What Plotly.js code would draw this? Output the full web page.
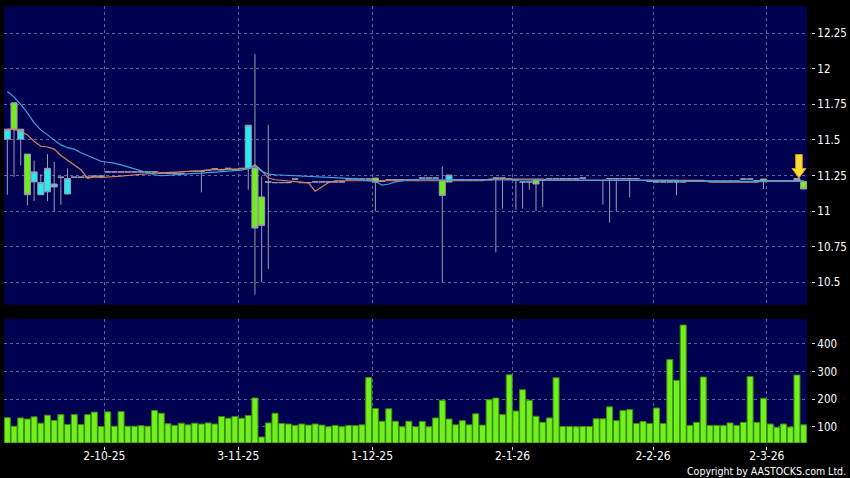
<!DOCTYPE html>
<html>
<head>
<meta charset="utf-8">
<script src="https://cdn.plot.ly/plotly-3.0.1.min.js"></script>
<style>
html,body{margin:0;padding:0;background:#000;}
#chart{width:850px;height:478px;}
</style>
</head>
<body>
<div id="chart"></div>
<script>
// ---- data ----
const dates = [
 '2025-09-10','2025-09-11','2025-09-12','2025-09-15','2025-09-16','2025-09-17','2025-09-18','2025-09-19','2025-09-22','2025-09-23',
 '2025-09-24','2025-09-25','2025-09-26','2025-09-29','2025-09-30','2025-10-02','2025-10-03','2025-10-06','2025-10-08','2025-10-09',
 '2025-10-10','2025-10-13','2025-10-14','2025-10-15','2025-10-16','2025-10-17','2025-10-20','2025-10-21','2025-10-22','2025-10-23',
 '2025-10-24','2025-10-27','2025-10-28','2025-10-30','2025-10-31','2025-11-03','2025-11-04','2025-11-05','2025-11-06','2025-11-07',
 '2025-11-10','2025-11-11','2025-11-12','2025-11-13','2025-11-14','2025-11-17','2025-11-18','2025-11-19','2025-11-20','2025-11-21',
 '2025-11-24','2025-11-25','2025-11-26','2025-11-27','2025-11-28','2025-12-01','2025-12-02','2025-12-03','2025-12-04','2025-12-05',
 '2025-12-08','2025-12-09','2025-12-10','2025-12-11','2025-12-12','2025-12-15','2025-12-16','2025-12-17','2025-12-18','2025-12-19',
 '2025-12-22','2025-12-23','2025-12-24','2025-12-29','2025-12-30','2025-12-31','2026-01-02','2026-01-05','2026-01-06','2026-01-07',
 '2026-01-08','2026-01-09','2026-01-12','2026-01-13','2026-01-14','2026-01-15','2026-01-16','2026-01-19','2026-01-20','2026-01-21',
 '2026-01-22','2026-01-23','2026-01-26','2026-01-27','2026-01-28','2026-01-29','2026-01-30','2026-02-02','2026-02-03','2026-02-04',
 '2026-02-05','2026-02-06','2026-02-09','2026-02-10','2026-02-11','2026-02-12','2026-02-13','2026-02-16','2026-02-20','2026-02-23',
 '2026-02-24','2026-02-25','2026-02-26','2026-02-27','2026-03-02','2026-03-03','2026-03-04','2026-03-05','2026-03-06','2026-03-09'
];

const openP = [
 11.505,11.76,11.505,11.40,11.205,11.115,11.135,11.17,11.238,11.12,
 11.238,11.238,11.238,11.245,11.245,11.275,11.275,11.275,11.275,11.275,
 11.275,11.275,11.275,11.265,11.265,11.265,11.265,11.278,11.278,11.278,
 11.285,11.297,11.29,11.30,11.29,11.30,11.302,11.302,11.099,11.204,
 11.20,11.20,11.20,11.225,11.20,11.20,11.205,11.205,11.205,11.205,
 11.205,11.225,11.225,11.225,11.225,11.232,11.21,11.22,11.22,11.22,
 11.22,11.22,11.232,11.232,11.232,11.215,11.204,11.22,11.22,11.22,
 11.22,11.22,11.22,11.232,11.232,11.225,11.22,11.204,11.204,11.22,
 11.215,11.227,11.227,11.227,11.227,11.227,11.232,11.215,11.215,11.215,
 11.228,11.228,11.228,11.228,11.228,11.215,11.21,11.205,11.205,11.205,
 11.205,11.205,11.21,11.21,11.21,11.21,11.21,11.21,11.21,11.21,
 11.225,11.225,11.215,11.225,11.21,11.21,11.21,11.21,11.21,11.208
];
const highP = [
 11.575,11.76,11.575,11.40,11.355,11.26,11.40,11.345,11.238,11.30,
 11.238,11.238,11.238,11.245,11.245,11.275,11.275,11.275,11.275,11.275,
 11.275,11.275,11.275,11.265,11.265,11.265,11.265,11.278,11.278,11.278,
 11.285,11.297,11.29,11.30,11.29,11.30,11.603,12.103,11.243,11.606,
 11.20,11.20,11.20,11.225,11.20,11.20,11.205,11.205,11.205,11.205,
 11.205,11.225,11.225,11.225,11.225,11.232,11.21,11.22,11.22,11.22,
 11.22,11.22,11.232,11.232,11.232,11.313,11.253,11.22,11.22,11.22,
 11.22,11.22,11.22,11.232,11.232,11.225,11.22,11.204,11.204,11.22,
 11.215,11.227,11.227,11.227,11.227,11.227,11.232,11.215,11.215,11.215,
 11.228,11.228,11.228,11.228,11.228,11.215,11.21,11.205,11.205,11.205,
 11.205,11.205,11.21,11.21,11.21,11.21,11.21,11.21,11.21,11.21,
 11.225,11.225,11.215,11.225,11.21,11.21,11.21,11.21,11.229,11.208
];
const lowP = [
 11.115,11.24,11.32,11.04,11.07,11.115,11.07,11.00,11.045,11.12,
 11.238,11.238,11.238,11.245,11.245,11.275,11.275,11.275,11.275,11.275,
 11.275,11.275,11.275,11.265,11.265,11.265,11.265,11.278,11.278,11.131,
 11.285,11.297,11.29,11.30,11.29,11.30,11.15,10.413,10.502,10.594,
 11.20,11.20,11.20,11.225,11.20,11.20,11.205,11.205,11.205,11.205,
 11.205,11.225,11.225,11.225,11.225,10.998,11.21,11.22,11.22,11.22,
 11.22,11.22,11.232,11.232,11.232,10.50,11.204,11.22,11.22,11.22,
 11.22,11.22,11.22,10.71,11.017,11.225,11.01,11.017,11.15,11.0,
 11.028,11.227,11.227,11.227,11.227,11.227,11.232,11.215,11.215,11.045,
 10.92,11.0,11.228,11.096,11.228,11.215,11.21,11.205,11.205,11.205,
 11.11,11.205,11.21,11.21,11.21,11.21,11.21,11.21,11.21,11.21,
 11.225,11.225,11.215,11.155,11.21,11.21,11.21,11.21,11.21,11.155
];
const closeP = [
 11.575,11.575,11.575,11.115,11.275,11.20,11.30,11.19,11.238,11.228,
 11.238,11.238,11.238,11.245,11.245,11.275,11.275,11.275,11.275,11.275,
 11.275,11.275,11.275,11.265,11.265,11.265,11.265,11.278,11.278,11.278,
 11.285,11.297,11.29,11.30,11.29,11.30,11.603,10.881,10.899,11.204,
 11.20,11.20,11.20,11.225,11.20,11.20,11.205,11.205,11.205,11.205,
 11.205,11.225,11.225,11.225,11.225,11.204,11.21,11.22,11.22,11.22,
 11.22,11.22,11.232,11.232,11.232,11.11,11.253,11.22,11.22,11.22,
 11.22,11.22,11.22,11.232,11.232,11.225,11.22,11.204,11.204,11.19,
 11.215,11.227,11.227,11.227,11.227,11.227,11.232,11.215,11.215,11.215,
 11.228,11.228,11.228,11.228,11.228,11.215,11.21,11.205,11.205,11.205,
 11.205,11.205,11.21,11.21,11.21,11.21,11.21,11.21,11.21,11.21,
 11.225,11.225,11.215,11.206,11.21,11.21,11.21,11.21,11.229,11.155
];

// moving averages (blue = longer, orange = shorter)
const maLong = [
 11.84,11.80,11.75,11.69,11.62,11.57,11.535,11.50,11.465,11.445,
 11.435,11.41,11.39,11.37,11.35,11.343,11.337,11.325,11.31,11.298,
 11.285,11.268,11.255,11.248,11.252,11.257,11.26,11.262,11.265,11.267,
 11.27,11.274,11.278,11.281,11.284,11.287,11.30,11.313,11.28,11.26,
 11.255,11.253,11.252,11.25,11.248,11.246,11.244,11.241,11.239,11.236,
 11.233,11.229,11.225,11.221,11.215,11.208,11.182,11.19,11.205,11.215,
 11.22,11.22,11.22,11.22,11.22,11.22,11.22,11.22,11.22,11.22,
 11.22,11.22,11.22,11.22,11.22,11.22,11.22,11.22,11.22,11.22,
 11.22,11.215,11.215,11.215,11.215,11.215,11.215,11.215,11.215,11.215,
 11.215,11.215,11.215,11.215,11.215,11.215,11.215,11.215,11.215,11.215,
 11.215,11.208,11.208,11.208,11.208,11.208,11.208,11.208,11.208,11.208,
 11.208,11.208,11.208,11.208,11.208,11.208,11.208,11.208,11.208,11.208
];
const maShort = [
 11.575,11.572,11.562,11.535,11.49,11.455,11.45,11.435,11.39,11.355,
 11.32,11.29,11.23,11.24,11.236,11.238,11.242,11.246,11.25,11.255,
 11.258,11.262,11.266,11.269,11.271,11.273,11.275,11.277,11.28,11.284,
 11.29,11.292,11.294,11.295,11.295,11.296,11.296,11.325,11.285,11.232,
 11.22,11.215,11.212,11.21,11.205,11.198,11.14,11.17,11.20,11.213,
 11.213,11.213,11.213,11.213,11.213,11.213,11.213,11.213,11.213,11.213,
 11.213,11.213,11.213,11.213,11.213,11.213,11.213,11.213,11.213,11.213,
 11.213,11.213,11.225,11.225,11.225,11.225,11.225,11.225,11.225,11.225,
 11.225,11.215,11.215,11.215,11.215,11.215,11.215,11.215,11.215,11.215,
 11.215,11.215,11.215,11.215,11.215,11.215,11.215,11.215,11.215,11.215,
 11.215,11.215,11.215,11.215,11.215,11.203,11.203,11.203,11.203,11.203,
 11.203,11.203,11.203,11.212,11.212,11.212,11.212,11.212,11.212,11.212
];

const volume = [
 133,102,132,128,136,113,142,123,144,108,
 144,108,144,153,101,154,102,155,102,102,
 104,102,159,149,111,105,113,107,113,110,
 114,110,137,131,137,131,141,204,63,114,
 149,112,110,105,110,106,110,106,100,105,
 100,105,104,107,278,166,120,165,120,100,
 120,100,119,100,132,196,128,107,122,107,
 147,106,198,204,144,288,157,234,196,138,
 116,132,277,101,101,100,101,101,129,129,
 172,122,159,162,112,119,112,168,112,343,
 268,468,105,116,280,105,105,105,114,105,
 116,282,116,203,110,98,110,99,287,107
];

const monthTickDates = ['2025-10-02','2025-11-03','2025-12-01','2026-01-02','2026-02-02','2026-03-02'];
const monthTickLabels = ['2-10-25','3-11-25','1-12-25','2-1-26','2-2-26','2-3-26'];
const priceTicks = [10.5,10.75,11,11.25,11.5,11.75,12,12.25];
const priceTickLabels = ['10.5','10.75','11','11.25','11.5','11.75','12','12.25'];
const volumeTicks = [100,200,300,400];
const volumeTickLabels = ['100','200','300','400'];
const arrowDate = '2026-03-06';

// ---- build ----
const xi = dates.map((d, i) => i);
const tickPos = monthTickDates.map(d => dates.indexOf(d) - 0.5);
const ai = dates.indexOf(arrowDate);

const GRID = '#62629c';
const NAVY = '#000050';
const FONT = 'DejaVu Sans Condensed, DejaVu Sans, sans-serif';

const traces = [
  {
    type: 'bar', x: xi, y: volume, xaxis: 'x', yaxis: 'y2',
    marker: {color: '#72f01c', line: {color: '#3a8c10', width: 1}},
    hoverinfo: 'skip'
  },
  {
    type: 'candlestick', x: xi, open: openP, high: highP, low: lowP, close: closeP,
    xaxis: 'x', yaxis: 'y',
    increasing: {line: {color: '#9c9cb0', width: 1}, fillcolor: '#28eaf4'},
    decreasing: {line: {color: '#9c9cb0', width: 1}, fillcolor: '#72ec1e'},
    whiskerwidth: 0, hoverinfo: 'skip'
  },
  {
    type: 'scatter', mode: 'lines', x: xi, y: maShort, xaxis: 'x', yaxis: 'y',
    line: {color: '#d9855c', width: 1.2}, hoverinfo: 'skip'
  },
  {
    type: 'scatter', mode: 'lines', x: xi, y: maLong, xaxis: 'x', yaxis: 'y',
    line: {color: '#3ea4e6', width: 1.2}, hoverinfo: 'skip'
  }
];

const W = 850, H = 478;
const ml = 4, mr = 39, mt = 6, mb = 31.5;
const pw = W - ml - mr, ph = H - mt - mb;
const paperBottom = H - mb;

const layout = {
  width: W, height: H,
  margin: {l: ml, r: mr, t: mt, b: mb, pad: 0},
  paper_bgcolor: '#000000',
  plot_bgcolor: NAVY,
  showlegend: false,
  font: {family: FONT, color: '#ffffff', size: 11.5},
  boxgap: 0.05, boxgroupgap: 0.05,
  bargap: 0.1,
  xaxis: {
    domain: [0, (807 - ml) / pw],
    anchor: 'free', position: 0,
    range: [-0.5, dates.length - 0.5],
    type: 'linear',
    tickmode: 'array', tickvals: tickPos, ticktext: monthTickLabels,
    ticks: 'outside', ticklen: 3, tickcolor: '#dddddd', tickwidth: 1,
    ticklabelstandoff: -4,
    tickfont: {family: FONT, size: 12, color: '#ffffff'},
    showgrid: true, gridcolor: GRID, griddash: '3px,3px', gridwidth: 1,
    zeroline: false, showline: false,
    rangeslider: {visible: false}, fixedrange: true
  },
  yaxis: {
    domain: [(paperBottom - 305) / ph, 1],
    anchor: 'free', position: 1, side: 'right',
    range: [10.343, 12.44],
    tickmode: 'array', tickvals: priceTicks, ticktext: priceTickLabels,
    ticks: 'outside', ticklen: 3, tickcolor: '#dddddd', tickwidth: 1,
    tickfont: {family: FONT, size: 11.5, color: '#ffffff'},
    showgrid: true, gridcolor: GRID, griddash: '3px,3px', gridwidth: 1,
    zeroline: false, showline: false, fixedrange: true
  },
  yaxis2: {
    domain: [(paperBottom - 443.3) / ph, (paperBottom - 319.3) / ph],
    anchor: 'free', position: 1, side: 'right',
    range: [42, 490],
    tickmode: 'array', tickvals: volumeTicks, ticktext: volumeTickLabels,
    ticks: 'outside', ticklen: 3, tickcolor: '#dddddd', tickwidth: 1,
    tickfont: {family: FONT, size: 11.5, color: '#ffffff'},
    showgrid: true, gridcolor: GRID, griddash: '3px,3px', gridwidth: 1,
    zeroline: false, showline: false, fixedrange: true
  },
  shapes: [
    {
      type: 'path', xref: 'x', yref: 'y',
      xsizemode: 'pixel', ysizemode: 'pixel',
      xanchor: ai, yanchor: highP[ai],
      path: 'M -1.3,24 L 5.3,24 L 5.3,10 L 9,10 L 2,0.5 L -5,10 L -1.3,10 Z',
      fillcolor: '#ffdc3a', line: {color: '#e09a00', width: 1}
    }
  ],
  annotations: [
    {
      xref: 'paper', yref: 'paper',
      x: (848 - ml) / pw, y: (paperBottom - 472) / ph,
      xanchor: 'right', yanchor: 'middle',
      text: 'Copyright by AASTOCKS.com Ltd.', showarrow: false,
      font: {family: FONT, size: 10.5, color: '#ffffff'}
    }
  ]
};

Plotly.newPlot('chart', traces, layout, {displayModeBar: false, staticPlot: true});
</script>
</body>
</html>
